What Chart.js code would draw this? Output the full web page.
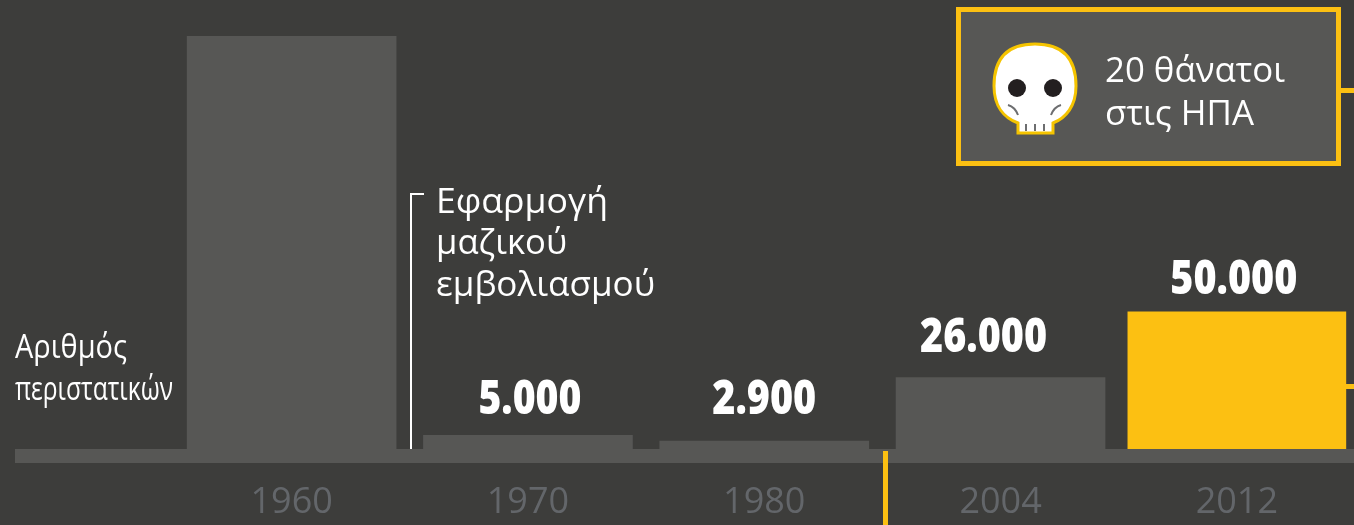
<!DOCTYPE html>
<html>
<head>
<meta charset="utf-8">
<script src="https://cdn.jsdelivr.net/npm/chart.js@4"></script>
<style>
html, body { margin: 0; padding: 0; background: #3d3d3b; overflow: hidden; }
canvas { display: block; }
</style>
</head>
<body>
<canvas id="grafico" width="1355" height="525"></canvas>
<script>
const anos = ['1960', '1970', '1980', '2004', '2012'];
const casosCinza = [150500, 5000, 2900, 26000, null];
const casosDestaque = [null, null, null, null, 50000];
const rotulos = ['', '5.000', '2.900', '26.000', '50.000'];

const CINZA = '#575755';
const AMARELO = '#fcc012';
const FONTE = '"Open Sans", sans-serif';

// Texto com largura fixa (a fonte original é mais estreita)
function texto(ctx, str, x, y, tamanho, largura, peso) {
    ctx.save();
    ctx.font = `${peso || 400} ${tamanho}px ${FONTE}`;
    ctx.fillStyle = '#ffffff';
    ctx.textAlign = 'left';
    ctx.textBaseline = 'alphabetic';
    const w = ctx.measureText(str).width;
    ctx.translate(x, y);
    ctx.scale(largura / w, 1);
    ctx.fillText(str, 0, 0);
    ctx.restore();
}

function desenharCaveira(ctx) {
    ctx.save();
    ctx.fillStyle = '#ffffff';
    ctx.strokeStyle = '#f5c400';
    ctx.lineWidth = 3;
    ctx.beginPath();
    ctx.moveTo(1018, 123);
    ctx.bezierCurveTo(1004, 118, 994, 106, 994, 86);
    ctx.bezierCurveTo(994, 58, 1008, 44, 1035, 44);
    ctx.bezierCurveTo(1062, 44, 1076, 58, 1076, 86);
    ctx.bezierCurveTo(1076, 106, 1066, 118, 1053, 123);
    ctx.lineTo(1053, 133);
    ctx.lineTo(1018, 133);
    ctx.closePath();
    ctx.fill();
    ctx.stroke();

    ctx.fillStyle = '#231f20';
    [1017, 1053].forEach(x => {
        ctx.beginPath();
        ctx.arc(x, 88, 9, 0, Math.PI * 2);
        ctx.fill();
    });

    ctx.strokeStyle = '#6d6e70';
    ctx.lineWidth = 2;
    ctx.beginPath();
    ctx.moveTo(1008, 105);
    ctx.quadraticCurveTo(1015, 107, 1018, 115);
    ctx.moveTo(1061, 105);
    ctx.quadraticCurveTo(1054, 107, 1051, 115);
    [1026, 1035, 1044].forEach(x => {
        ctx.moveTo(x, 124);
        ctx.lineTo(x, 131);
    });
    ctx.stroke();
    ctx.restore();
}

// Faixa do eixo atrás das barras
const faixaEixo = {
    id: 'faixaEixo',
    beforeDatasetsDraw(chart) {
        const { ctx, scales } = chart;
        ctx.fillStyle = CINZA;
        ctx.fillRect(15, scales.x.top, chart.width - 15, 14);
    }
};

// Rótulos, anotações e caixa de destaque
const anotacoes = {
    id: 'anotacoes',
    afterDatasetsDraw(chart) {
        const { ctx, scales } = chart;
        const base = scales.x.top;

        // valores sobre as barras
        const folgas = [0, 21, 27, 26, 18];
        const desvios = [0, 2, 0, -17, -3];
        const larguras = [0, 103, 104, 127, 127];
        rotulos.forEach((r, i) => {
            if (!r) return;
            const barra = chart.getDatasetMeta(i === 4 ? 1 : 0).data[i];
            const x = barra.x + desvios[i] - larguras[i] / 2;
            texto(ctx, r, x, barra.y - folgas[i], 47, larguras[i], 800);
        });

        texto(ctx, 'Αριθμός', 15, 358, 33, 112);
        texto(ctx, 'περιστατικών', 15, 400, 33, 158);

        // marcador do embolismo
        ctx.strokeStyle = '#ffffff';
        ctx.lineWidth = 2;
        ctx.beginPath();
        ctx.moveTo(424, 194);
        ctx.lineTo(411, 194);
        ctx.lineTo(411, base);
        ctx.stroke();
        texto(ctx, 'Εφαρμογή', 436, 213, 35, 172);
        texto(ctx, 'μαζικού', 436, 254, 35, 131);
        texto(ctx, 'εμβολιασμού', 436, 296, 35, 219);

        // caixa
        ctx.fillStyle = CINZA;
        ctx.fillRect(956, 7, 385, 159);
        ctx.strokeStyle = AMARELO;
        ctx.lineWidth = 5;
        ctx.strokeRect(958.5, 9.5, 380, 154);
        desenharCaveira(ctx);
        texto(ctx, '20 θάνατοι', 1105, 82, 35, 180);
        texto(ctx, 'στις ΗΠΑ', 1105, 125, 35, 149);

        // linhas amarelas
        ctx.fillStyle = AMARELO;
        ctx.fillRect(1341, 88, 14, 5);
        ctx.fillRect(1345, 384, 10, 5);
        ctx.fillRect(883, 451, 5, 74);
    }
};

new Chart(document.getElementById('grafico').getContext('2d'), {
    type: 'bar',
    data: {
        labels: anos,
        datasets: [
            { data: casosCinza, backgroundColor: CINZA, barThickness: 209, grouped: false },
            { data: casosDestaque, backgroundColor: AMARELO, barThickness: 218, grouped: false }
        ]
    },
    options: {
        responsive: false,
        animation: false,
        layout: { padding: { left: 173.5, top: 36, right: 0, bottom: 0 } },
        plugins: { legend: { display: false }, tooltip: { enabled: false } },
        scales: {
            x: {
                grid: { display: false },
                border: { display: false },
                afterFit(scale) { scale.height = 76; },
                ticks: {
                    color: '#63666a',
                    padding: 24,
                    maxRotation: 0,
                    font: { family: FONTE, size: 36 }
                }
            },
            y: { display: false, min: 0, max: 150500 }
        }
    },
    plugins: [faixaEixo, anotacoes]
});
</script>
</body>
</html>
